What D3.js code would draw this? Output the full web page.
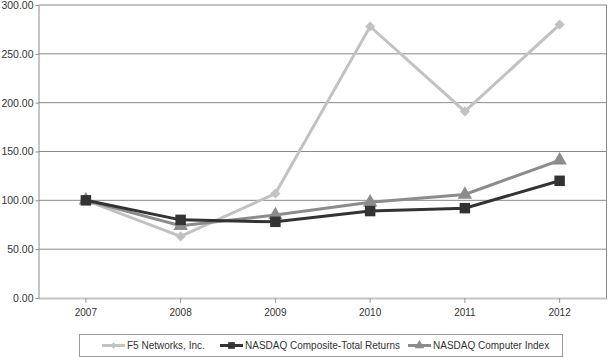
<!DOCTYPE html>
<html><head><meta charset="utf-8">
<script src="https://cdn.jsdelivr.net/npm/d3@7/dist/d3.min.js"></script>
<style>body{margin:0;background:#fff;}svg{display:block;font-family:"Liberation Sans",Arial,sans-serif;}</style>
</head><body>
<svg id="c" width="608" height="357"></svg>
<script>
const years = ["2007","2008","2009","2010","2011","2012"];
const f5 = [100, 63, 107, 278, 191, 280];
const composite = [100, 80, 78, 89, 92, 120];
const computer = [100, 74, 85, 98, 106, 141];
const yTicks = [0, 50, 100, 150, 200, 250, 300];
const seriesNames = ["F5 Networks, Inc.", "NASDAQ Composite-Total Returns", "NASDAQ Computer Index"];

const svg = d3.select("#c");
const L = 38.5, R = 607, T = 5, B = 298;
const x = d3.scaleBand().domain(years).range([L, R]);
const y = d3.scaleLinear().domain([0, 300]).range([B, T]);

svg.append("g").selectAll("line").data(yTicks.filter(d => d > 0)).join("line")
  .attr("x1", L).attr("x2", R).attr("y1", d => y(d)).attr("y2", d => y(d))
  .attr("stroke", "#8a8a8a").attr("stroke-width", 1);
svg.append("line").attr("x1", R - 0.5).attr("x2", R - 0.5).attr("y1", T).attr("y2", B)
  .attr("stroke", "#8a8a8a");
const xa = svg.append("g").attr("transform", `translate(0,${B})`)
  .call(d3.axisBottom(x).tickSize(5).tickSizeOuter(0));
xa.select(".domain").attr("stroke", "#c4c4c4").attr("stroke-width", 2);
xa.selectAll(".tick line").attr("stroke", "#999");
xa.selectAll(".tick text").attr("font-size", 10).attr("fill", "#333").attr("dy", "0.95em")
  .attr("font-family", "Liberation Sans, Arial, sans-serif");
const ya = svg.append("g").attr("transform", `translate(${L},0)`)
  .call(d3.axisLeft(y).tickValues(yTicks).tickFormat(d3.format(".2f")).tickSize(3).tickSizeOuter(0));
ya.select(".domain").attr("stroke", "#8a8a8a");
ya.selectAll(".tick line").attr("stroke", "#8a8a8a");
ya.selectAll(".tick text").attr("font-size", 10.5).attr("fill", "#333").attr("x", -5)
  .attr("font-family", "Liberation Sans, Arial, sans-serif");

const series = [
  {name: seriesNames[0], vals: f5, color: "#c2c2c2", sym: d3.symbolSquare, size: 52, rot: 45},
  {name: seriesNames[2], vals: computer, color: "#8c8c8c", sym: d3.symbolTriangle, size: 90, rot: 0},
  {name: seriesNames[1], vals: composite, color: "#333333", sym: d3.symbolSquare, size: 110, rot: 0},
];
const line = d3.line().x((d, i) => x(years[i]) + x.bandwidth() / 2).y(d => y(d));
series.forEach(s => {
  svg.append("path").attr("d", line(s.vals)).attr("fill", "none")
    .attr("stroke", s.color).attr("stroke-width", 3).attr("stroke-linejoin", "miter");
  svg.append("g").selectAll("path").data(s.vals).join("path")
    .attr("d", d3.symbol().type(s.sym).size(s.size))
    .attr("transform", (d, i) => `translate(${x(years[i]) + x.bandwidth() / 2},${y(d)}) rotate(${s.rot})`)
    .attr("fill", s.color);
});

const lg = svg.append("g");
lg.append("rect").attr("x", 79.5).attr("y", 334.5).attr("width", 483).attr("height", 22)
  .attr("fill", "none").attr("stroke", "#999");
const legendItems = [
  {name: seriesNames[0], color: "#c2c2c2", sym: d3.symbolSquare, size: 22, rot: 45, x0: 102},
  {name: seriesNames[1], color: "#333333", sym: d3.symbolSquare, size: 45, rot: 0, x0: 220},
  {name: seriesNames[2], color: "#8c8c8c", sym: d3.symbolTriangle, size: 40, rot: 0, x0: 408},
];
legendItems.forEach(it => {
  lg.append("line").attr("x1", it.x0).attr("x2", it.x0 + 23).attr("y1", 345.5).attr("y2", 345.5)
    .attr("stroke", it.color).attr("stroke-width", 3);
  lg.append("path").attr("d", d3.symbol().type(it.sym).size(it.size)())
    .attr("transform", `translate(${it.x0 + 11.5},345.5) rotate(${it.rot})`).attr("fill", it.color);
  lg.append("text").attr("x", it.x0 + 25).attr("y", 349).attr("font-size", 10).attr("fill", "#333")
    .text(it.name);
});
</script>
</body></html>
